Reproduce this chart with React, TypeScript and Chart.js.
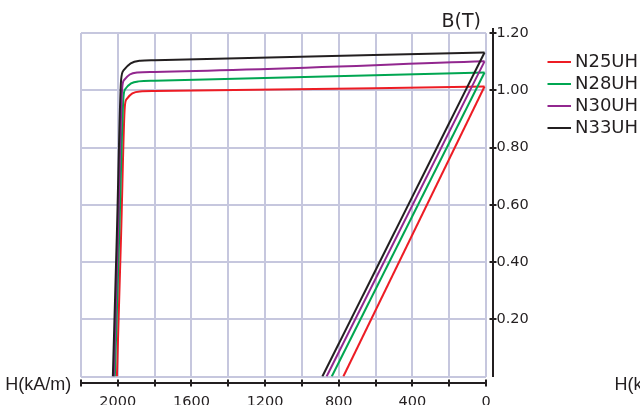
import React, { useEffect, useRef } from 'react';
import { Chart, registerables } from 'chart.js';

Chart.register(...registerables);

// ---- data ----
const GRADES = ['N25UH', 'N28UH', 'N30UH', 'N33UH'];
const H_MAX = 2200; // kA/m, left end of the reversed H axis
const H_TICK_STEP = 200;
const H_LABEL_STEP = 400;
const B_MAX = 1.2;
const B_TICK_STEP = 0.2;

// remanence (B at H ~ 0) and normal coercivity (H where B = 0)
const H_START = 8;
const BR = [1.013, 1.062, 1.101, 1.132];
const HCB = [775, 838, 866, 889];

// intrinsic curves after the start point: flat part, knee and near-vertical drop
const J_H_N25UH = [1800, 1880, 1921, 1951, 1962, 1982, 2005];
const J_B_N25UH = [0.997, 0.996, 0.989, 0.970, 0.943, 0.5, 0];
const J_H_N28UH = [1800, 1887, 1928, 1958, 1969, 1992, 2016];
const J_B_N28UH = [1.033, 1.031, 1.024, 1.005, 0.978, 0.5, 0];
const J_H_N30UH = [1800, 1894, 1935, 1965, 1976, 1999, 2022];
const J_B_N30UH = [1.064, 1.062, 1.055, 1.036, 1.010, 0.5, 0];
const J_H_N33UH = [1800, 1878, 1930, 1968, 1982, 2005, 2027];
const J_B_N33UH = [1.105, 1.103, 1.094, 1.070, 1.037, 0.5, 0];

const J_H = [J_H_N25UH, J_H_N28UH, J_H_N30UH, J_H_N33UH];
const J_B = [J_B_N25UH, J_B_N28UH, J_B_N30UH, J_B_N33UH];

// ---- styles ----
const COLORS = ['#ed1c24', '#00a651', '#92278f', '#231f20'];
const GRID_COLOR = '#c6c7de';
const AXIS_COLOR = '#231f20';
const TICK_FONT = { family: '"DejaVu Sans", sans-serif', size: 14.5 };

const decorPlugin = {
  id: 'decor',
  afterDraw(chart: any) {
    const { ctx, chartArea, scales } = chart;
    const xs = scales.x;
    const ys = scales.y;
    ctx.save();
    ctx.strokeStyle = AXIS_COLOR;
    ctx.fillStyle = AXIS_COLOR;
    ctx.lineWidth = 2;
    ctx.lineCap = 'butt';

    // offset H axis
    const ax = Math.round(chartArea.bottom + 6.3);
    ctx.beginPath();
    ctx.moveTo(Math.round(xs.getPixelForValue(H_MAX)) - 1, ax);
    ctx.lineTo(Math.round(xs.getPixelForValue(0)) + 1, ax);
    ctx.stroke();
    xs.ticks.forEach((t: any) => {
      const px = Math.round(xs.getPixelForValue(t.value));
      ctx.beginPath();
      ctx.moveTo(px, ax - 3.5);
      ctx.lineTo(px, ax + 3.5);
      ctx.stroke();
    });

    // offset B axis
    const ay = Math.round(chartArea.right + 6.5);
    ctx.beginPath();
    ctx.moveTo(ay, Math.round(ys.getPixelForValue(B_MAX)) - 5);
    ctx.lineTo(ay, Math.round(ys.getPixelForValue(0)));
    ctx.stroke();
    ys.ticks.forEach((t: any) => {
      if (t.value === 0) return;
      const py = Math.round(ys.getPixelForValue(t.value));
      ctx.beginPath();
      ctx.moveTo(ay - 3.5, py);
      ctx.lineTo(ay + 3.5, py);
      ctx.stroke();
    });

    // axis titles
    ctx.textBaseline = 'alphabetic';
    ctx.textAlign = 'left';
    ctx.font = '19px "DejaVu Sans", sans-serif';
    ctx.fillText('B(T)', 441.5, 27);
    ctx.font = '18px "Liberation Sans", sans-serif';
    ctx.fillText('H(kA/m)', 5.3, 389.5);
    ctx.fillText('H(kA/m)', 614.6, 389.5);

    // legend
    ctx.font = '18px "DejaVu Sans", sans-serif';
    ctx.textBaseline = 'middle';
    GRADES.forEach((g, i) => {
      const y = Math.round(62 + i * 21.9);
      ctx.strokeStyle = COLORS[i];
      ctx.lineWidth = 2;
      ctx.beginPath();
      ctx.moveTo(547.5, y);
      ctx.lineTo(571, y);
      ctx.stroke();
      ctx.fillStyle = AXIS_COLOR;
      ctx.fillText(g, 575, y + 0.5);
    });
    ctx.restore();
  },
};

export default function App() {
  const ref = useRef<HTMLCanvasElement>(null);

  useEffect(() => {
    const datasets: any[] = [];
    GRADES.forEach((g, i) => {
      const jData = [{ x: H_START, y: BR[i] }].concat(
        J_H[i].map((h, k) => ({ x: h, y: J_B[i][k] }))
      );
      datasets.push({
        label: g,
        data: jData,
        borderColor: COLORS[i],
        backgroundColor: COLORS[i],
        borderWidth: 2,
        pointRadius: 0,
        cubicInterpolationMode: 'monotone',
        order: GRADES.length - i,
      });
      datasets.push({
        label: g + ' B',
        data: [
          { x: H_START, y: BR[i] },
          { x: HCB[i], y: 0 },
        ],
        borderColor: COLORS[i],
        backgroundColor: COLORS[i],
        borderWidth: 2,
        pointRadius: 0,
        tension: 0,
        order: GRADES.length - i,
      });
    });

    const chart = new Chart(ref.current as HTMLCanvasElement, {
      type: 'line',
      data: { datasets },
      options: {
        animation: false,
        responsive: false,
        maintainAspectRatio: false,
        layout: { padding: { left: 81, right: 100, top: 33, bottom: 0 } },
        plugins: {
          legend: { display: false },
          tooltip: { enabled: false },
        },
        scales: {
          x: {
            type: 'linear',
            reverse: true,
            min: 0,
            max: H_MAX,
            afterFit: (s: any) => {
              s.height = 28.5;
            },
            border: { display: false },
            grid: { color: GRID_COLOR, lineWidth: 2, drawTicks: false },
            ticks: {
              stepSize: H_TICK_STEP,
              autoSkip: false,
              maxRotation: 0,
              padding: 17,
              color: AXIS_COLOR,
              font: TICK_FONT,
              callback: (v: any) => (Math.round(v) % H_LABEL_STEP === 0 ? String(Math.round(v)) : ''),
            },
          },
          y: {
            type: 'linear',
            position: 'right',
            min: 0,
            max: B_MAX,
            afterFit: (s: any) => {
              s.width = 54;
            },
            border: { display: false },
            grid: { color: GRID_COLOR, lineWidth: 2, drawTicks: false },
            ticks: {
              stepSize: B_TICK_STEP,
              autoSkip: false,
              padding: 10.5,
              color: AXIS_COLOR,
              font: TICK_FONT,
              callback: (v: any) => (Math.abs(v) < 1e-9 ? '' : Number(v).toFixed(2)),
            },
          },
        },
      },
      plugins: [decorPlugin],
    } as any);
    return () => chart.destroy();
  }, []);

  return (
    <div style={{ position: 'absolute', left: 0, top: 0, width: 640, height: 405, background: '#fff' }}>
      <canvas ref={ref} width={640} height={405} style={{ display: 'block', width: 640, height: 405 }} />
    </div>
  );
}
